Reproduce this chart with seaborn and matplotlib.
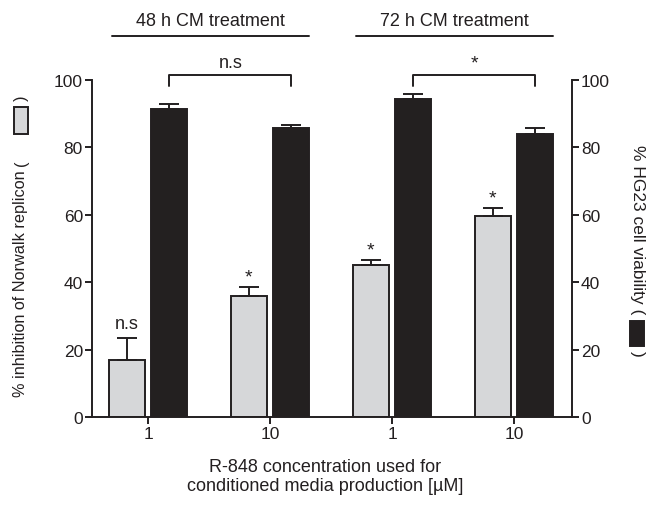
import numpy as np
import pandas as pd
import matplotlib
matplotlib.use("Agg")
import matplotlib.pyplot as plt
import seaborn as sns
from matplotlib.patches import Rectangle

# values
groups = ["48h_1", "48h_10", "72h_1", "72h_10"]
tick_labels = ["1", "10", "1", "10"]
inhibition = [17.0, 36.0, 45.2, 59.6]
inhibition_err = [6.4, 2.7, 1.4, 2.5]
viability = [91.3, 85.7, 94.2, 84.0]
viability_err = [1.5, 0.8, 1.7, 1.7]
bar_marks = ["n.s", "*", "*", "*"]
brackets = [(0, 1, "n.s"), (2, 3, "*")]
treatments = [("48 h CM treatment", 0, 1), ("72 h CM treatment", 2, 3)]

INK = "#231f20"
GREY = "#d6d7d9"

sns.set_style("ticks")
plt.rcParams["font.family"] = ["Liberation Sans", "DejaVu Sans"]
plt.rcParams["font.size"] = 12.5
plt.rcParams["text.color"] = INK
plt.rcParams["axes.edgecolor"] = INK
plt.rcParams["xtick.color"] = INK
plt.rcParams["ytick.color"] = INK

df = pd.DataFrame({
    "group": groups * 2,
    "series": ["inhibition"] * 4 + ["viability"] * 4,
    "value": inhibition + viability,
})

fig = plt.figure(figsize=(6.48, 5.06), dpi=100)
ax = fig.add_axes([0.142, 0.1733, 0.7407, 0.6670])
sns.barplot(data=df, x="group", y="value", hue="series", order=groups,
            palette={"inhibition": GREY, "viability": INK},
            width=0.7, gap=0.16, errorbar=None, edgecolor=INK,
            linewidth=1.4, legend=False, ax=ax)

# upper-only error bars on each bar
for cont, errs in zip(ax.containers, [inhibition_err, viability_err]):
    xs = [p.get_x() + p.get_width() / 2 for p in cont.patches]
    ys = [p.get_height() for p in cont.patches]
    ax.errorbar(xs, ys, yerr=[np.zeros(len(errs)), errs], fmt="none",
                ecolor=INK, elinewidth=1.4, capsize=7, capthick=1.4, zorder=3)

# significance above the grey bars
grey_patches = ax.containers[0].patches
for p, v, e, mark in zip(grey_patches, inhibition, inhibition_err, bar_marks):
    xc = p.get_x() + p.get_width() / 2
    if mark == "*":
        ax.text(xc, v + e + 0.4, mark, ha="center", va="bottom", fontsize=14)
    else:
        ax.text(xc, v + e + 1.8, mark, ha="center", va="bottom", fontsize=13)

# brackets between black bars
black_patches = ax.containers[1].patches
for i, j, mark in brackets:
    x1 = black_patches[i].get_x() + black_patches[i].get_width() / 2
    x2 = black_patches[j].get_x() + black_patches[j].get_width() / 2
    ax.plot([x1, x1, x2, x2], [98.2, 101.4, 101.4, 98.2], color=INK,
            lw=1.4, clip_on=False)
    if mark == "*":
        ax.text((x1 + x2) / 2, 102.4, mark, ha="center", va="bottom", fontsize=14)
    else:
        ax.text((x1 + x2) / 2, 102.6, mark, ha="center", va="bottom", fontsize=13)

# treatment headers
for label, i, j in treatments:
    x1 = grey_patches[i].get_x() + 0.03
    x2 = black_patches[j].get_x() + black_patches[j].get_width()
    ax.plot([x1, x2], [113, 113], color=INK, lw=1.4, clip_on=False)
    ax.text((x1 + x2) / 2, 115.0, label, ha="center", va="bottom", fontsize=13)

ax.set_xlim(-0.459, 3.475)
ax.set_ylim(0, 100)
ax.set_yticks([0, 20, 40, 60, 80, 100])
ax.set_xticks(range(len(groups)))
ax.set_xticklabels(tick_labels)
ax.set_xlabel("")
ax.set_ylabel("")
ax.tick_params(length=5, width=1.4, direction="out", pad=1.5)

ax2 = ax.twinx()
ax2.set_ylim(0, 100)
ax2.set_yticks([0, 20, 40, 60, 80, 100])
ax2.tick_params(length=5, width=1.4, direction="out", pad=1.5)
for a in (ax, ax2):
    for s in a.spines.values():
        s.set_linewidth(1.4)
    a.spines["top"].set_visible(False)
ax.spines["right"].set_visible(False)
ax2.spines["left"].set_visible(False)
ax2.spines["bottom"].set_visible(False)

# axis titles with the little legend boxes
W, H = 648.0, 506.0
fig.text(21 / W, 1 - 397 / H, "% inhibition of Norwalk replicon",
         rotation=90, rotation_mode="anchor", ha="left", va="center",
         fontsize=11.7)
fig.text(21 / W, 1 - 166 / H, "(", rotation=90, rotation_mode="anchor",
         ha="left", va="center", fontsize=11.7)
fig.patches.append(Rectangle((14 / W, 1 - 135 / H), 14 / W, 27 / H,
                             transform=fig.transFigure, facecolor=GREY,
                             edgecolor=INK, lw=1.4))
fig.text(21 / W, 1 - 101 / H, ")", rotation=90, rotation_mode="anchor",
         ha="left", va="center", fontsize=11.7)

fig.text(637 / W, 1 - 145 / H, "% HG23 cell viability (",
         rotation=270, rotation_mode="anchor", ha="left", va="center")
fig.patches.append(Rectangle((630 / W, 1 - 347 / H), 14 / W, 25 / H,
                             transform=fig.transFigure, facecolor=INK,
                             edgecolor=INK, lw=1.4))
fig.text(637 / W, 1 - 351 / H, ")", rotation=270, rotation_mode="anchor",
         ha="left", va="center")

fig.text(325 / W, 1 - 477 / H,
         "R-848 concentration used for\nconditioned media production [\u00b5M]",
         ha="center", va="center", linespacing=1.1, fontsize=13)

fig.savefig("out.png", dpi=100)
